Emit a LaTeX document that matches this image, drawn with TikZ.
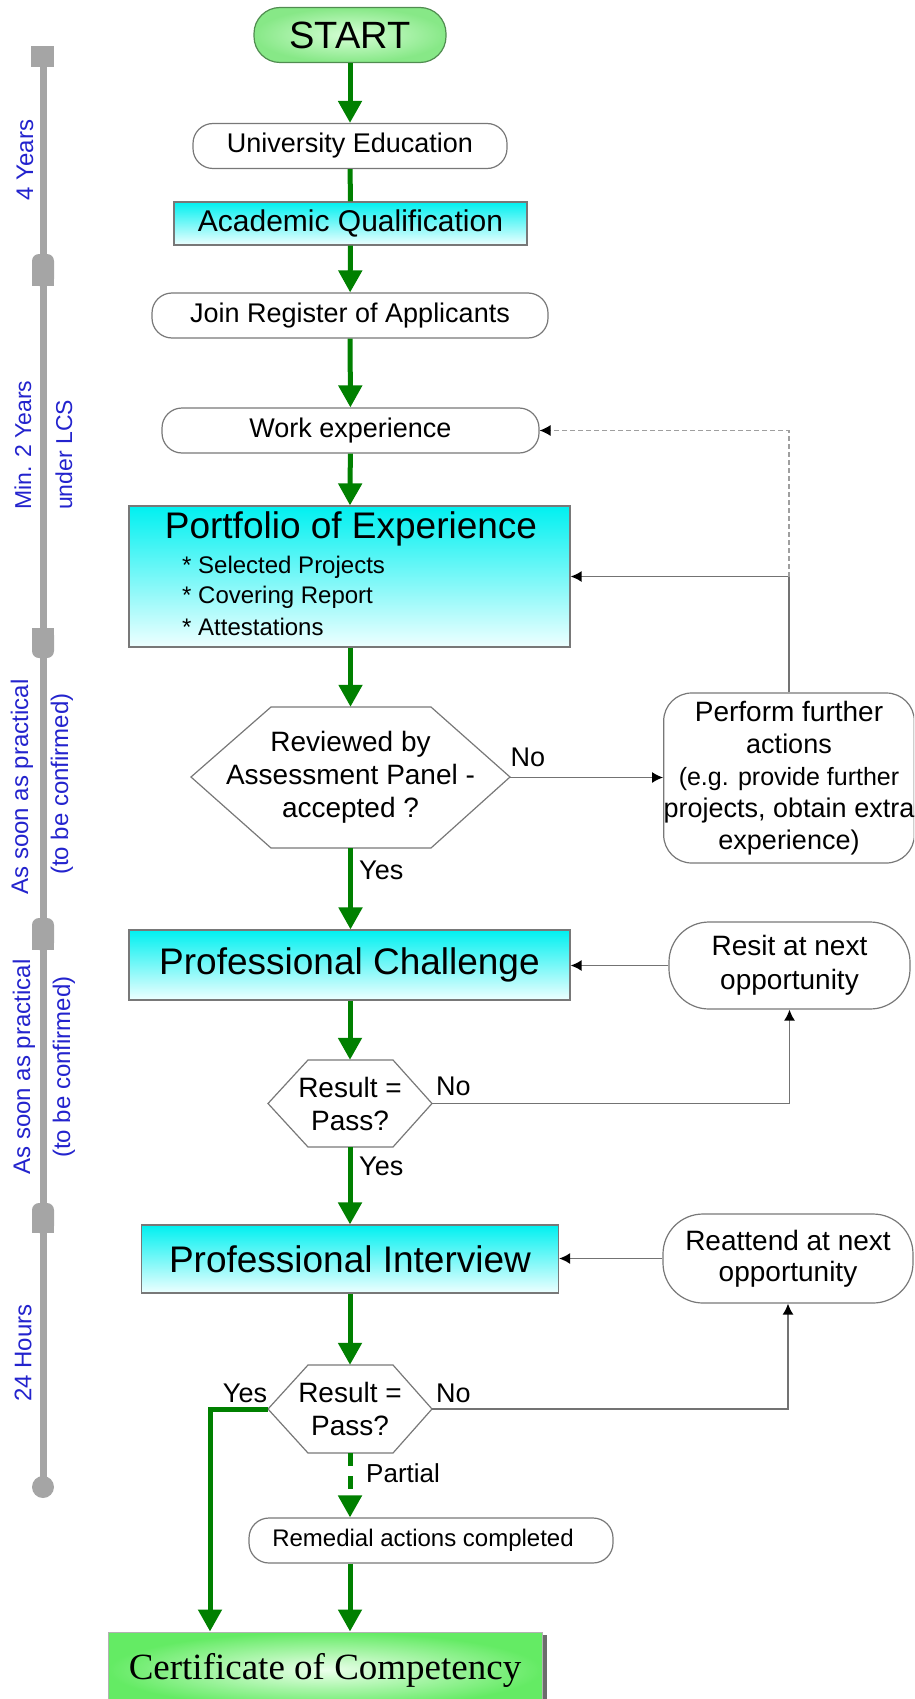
\documentclass[tikz,border=0pt]{standalone}
\usepackage{fontspec}
\setmainfont{Liberation Sans}
\newfontfamily\serifcert{Liberation Serif}
\usetikzlibrary{arrows.meta,shadows}

\definecolor{gflow}{RGB}{0,128,0}
\definecolor{tlblue}{RGB}{35,35,205}
\definecolor{barc}{RGB}{165,165,165}
\definecolor{cyantop}{RGB}{0,240,240}
\definecolor{cyanbot}{RGB}{238,255,255}
\definecolor{edgec}{RGB}{120,120,120}
\definecolor{linec}{RGB}{115,115,115}
\definecolor{startin}{RGB}{215,255,215}
\definecolor{startout}{RGB}{135,232,135}
\definecolor{startline}{RGB}{80,140,80}
\definecolor{certin}{RGB}{235,255,235}
\definecolor{certout}{RGB}{100,235,100}

\newcommand{\fsz}[2]{\fontsize{#1}{#2}\selectfont}

\begin{document}
\begin{tikzpicture}[x=1pt,y=-1pt,
  term/.style={draw=edgec, line width=1.2pt, rounded corners=20pt, fill=white, inner sep=0pt, font=\fsz{27}{32}},
  cyanbox/.style={draw=edgec, line width=1.2pt, top color=cyantop, bottom color=cyanbot, inner sep=0pt},
  hexbox/.style={inner sep=0pt, align=center, font=\fsz{28}{33}},
  hexline/.style={draw=edgec, line width=1.2pt, fill=white},
  garrow/.style={draw=gflow, line width=5pt, -{Triangle[length=22pt,width=23pt]}},
  gline/.style={draw=gflow, line width=5pt},
  barrow/.style={draw=linec, line width=1.5pt, -{Latex[length=11pt,width=11pt,color=black]}},
  lbl/.style={inner sep=0pt, font=\fsz{27}{30}},
  tl/.style={rotate=90, text=tlblue, inner sep=0pt, font=\fsz{24}{28}},
  marker/.style={fill=barc},
]
\useasboundingbox (0,0) rectangle (914,1699);
\clip (0,0) rectangle (914,1699);

% ---------- timeline ----------
\fill[marker] (39.5,56) rectangle (46.5,1487);
\fill[marker] (31,46) rectangle (54,67);
\fill[marker, rounded corners=7pt] (32,254) rectangle (54,286);
\fill[marker] (32,270) rectangle (54,286);
\fill[marker, rounded corners=7pt] (32,628) rectangle (54,658);
\fill[marker] (32,628) rectangle (54,643);
\fill[marker, rounded corners=7pt] (32,918) rectangle (54,950);
\fill[marker] (32,934) rectangle (54,950);
\fill[marker, rounded corners=7pt] (32,1203) rectangle (54,1233);
\fill[marker] (32,1218) rectangle (54,1233);
\fill[marker] (43,1487) circle (11pt);

\node[tl] (t1) at (25,160) {4 Years};
\node[tl, anchor=west, font=\fsz{23}{28}] (t2a) at (23,510) {Min. 2 Years};
\node[tl, anchor=west, font=\fsz{23}{28}] (t2b) at (64,510) {under LCS};
\node[tl] (t3a) at (22,787) {As soon as practical};
\node[tl] (t3b) at (62,784) {(to be confirmed)};
\node[tl] (t4a) at (24,1067) {As soon as practical};
\node[tl] (t4b) at (64,1067) {(to be confirmed)};
\node[tl] (t5) at (23,1353) {24 Hours};

% ---------- main column ----------
\node[draw=startline, line width=1.2pt, shading=radial, inner color=startin, outer color=startout,
      rounded corners=26pt, minimum width=192pt, minimum height=55pt, inner sep=0pt,
      font=\fsz{38}{40}] (start) at (350,35) {START};
\node[term, minimum width=314pt, minimum height=45pt] (univ) at (350,146) {University Education};
\node[cyanbox, minimum width=353pt, minimum height=43pt, font=\fsz{30}{34}] (acad) at (350.5,223.5) {Academic Qualification};
\node[term, minimum width=396pt, minimum height=45pt] (join) at (350,315.5) {Join Register of Applicants};
\node[term, minimum width=377pt, minimum height=45pt] (work) at (350.5,430.5) {Work experience};

\node[cyanbox, minimum width=441pt, minimum height=141pt] (port) at (349.5,576.5) {};
\node[inner sep=0pt, font=\fsz{37}{40}] (porttitle) at (351,529) {Portfolio of Experience};
\node[inner sep=0pt, anchor=west, font=\fsz{24}{30}] (pb1) at (182,567) {* Selected Projects};
\node[inner sep=0pt, anchor=west, font=\fsz{24}{30}] (pb2) at (182,597) {* Covering Report};
\node[inner sep=0pt, anchor=west, font=\fsz{24}{30}] (pb3) at (182,627) {* Attestations};

\draw[hexline] (191,777) -- (271,707) -- (431,707) -- (510,777) -- (431,848) -- (271,848) -- cycle;
\node[hexbox, minimum width=319pt, minimum height=141pt] (d1) at (350.5,777.5) {Reviewed by\\Assessment Panel -\\accepted ?};
\node[lbl, anchor=west] (y1) at (359,870) {Yes};
\node[lbl] (n1) at (528,757) {No};

\node[term, rounded corners=28pt, minimum width=246pt, minimum height=170pt, align=center] (perf) at (789,778)
  {\fsz{28}{29}Perform further\\actions\\\fsz{25}{29}(e.g. provide further\\projects, obtain extra\\experience)};

\node[cyanbox, minimum width=441pt, minimum height=70pt, font=\fsz{37}{40}] (pc) at (349.5,965) {Professional Challenge};
\node[term, rounded corners=40pt, minimum width=241pt, minimum height=87pt, align=center, font=\fsz{28}{34}] (resit) at (789.5,965.5) {Resit at next\\opportunity};

\draw[hexline] (268,1103.5) -- (308,1060) -- (393,1060) -- (432,1103.5) -- (393,1147) -- (308,1147) -- cycle;
\node[hexbox, minimum width=164pt, minimum height=87pt] (d2) at (350,1103.5) {Result =\\Pass?};
\node[lbl] (n2) at (453.5,1086) {No};
\node[lbl, anchor=west] (y2) at (359,1166) {Yes};

\node[cyanbox, minimum width=417pt, minimum height=68pt, font=\fsz{37}{40}] (pi) at (350,1259) {Professional Interview};
\node[term, rounded corners=40pt, minimum width=250pt, minimum height=89pt, align=center, font=\fsz{28}{31}] (reatt) at (788,1258.5) {Reattend at next\\opportunity};

\draw[hexline] (268,1409) -- (308,1365) -- (393,1365) -- (432,1409) -- (393,1453) -- (308,1453) -- cycle;
\node[hexbox, minimum width=164pt, minimum height=88pt] (d3) at (350,1409) {Result =\\Pass?};
\node[lbl] (y3) at (245,1393) {Yes};
\node[lbl] (n3) at (453.5,1393) {No};
\node[lbl, anchor=west, font=\fsz{26}{30}] (pt) at (366,1473) {Partial};

\node[term, minimum width=364pt, minimum height=45pt, font=\fsz{24}{28}] (rem) at (431,1540.5) {\hspace*{-16pt}Remedial actions completed};

\node[draw=gray!60, line width=1pt, shading=radial, inner color=certin, outer color=certout,
      minimum width=434pt, minimum height=76pt, inner sep=0pt,
      drop shadow={shadow xshift=5pt, shadow yshift=-3pt, fill=gray!85!black, opacity=1},
      font=\serifcert\fsz{37}{40}] (cert) at (325,1670) {Certificate of Competency};

% ---------- green flow ----------
\draw[garrow] (start) -- (univ);
\draw[gline] (univ) -- (acad);
\draw[garrow] (acad) -- (join);
\draw[garrow] (join) -- (work);
\draw[garrow] (work) -- (port);
\draw[garrow] (port.south -| d1.north) -- (d1.north);
\draw[garrow] (d1.south) -- (d1.south |- pc.north);
\draw[garrow] (pc.south -| d2.north) -- (d2.north);
\draw[garrow] (d2.south) -- (d2.south |- pi.north);
\draw[garrow] (pi.south -| d3.north) -- (d3.north);
\coordinate (ybend) at (210,1409);
\draw[garrow] (d3.west) -- (ybend) -- (ybend |- cert.north);
\draw[garrow, dash pattern=on 13pt off 10pt] (d3.south) -- (d3.south |- rem.north);
\draw[garrow] (d3.south |- rem.south) -- (d3.south |- cert.north);

% ---------- black connectors ----------
\draw[barrow] (d1.east) -- (perf.west |- d1.east);
\draw[barrow] (perf.north) |- (port.east);
\coordinate (loopj) at (perf.north |- port.east);
\draw[barrow, draw=gray!75, line width=1.2pt, dash pattern=on 5pt off 3pt] (loopj) |- (work.east);
\draw[barrow] (resit.west) -- (resit.west -| pc.east);
\draw[barrow] (d2.east) -| (resit.south);
\draw[barrow] (reatt.west) -- (reatt.west -| pi.east);
\draw[barrow] (d3.east) -| (reatt.south);
\end{tikzpicture}
\end{document}
